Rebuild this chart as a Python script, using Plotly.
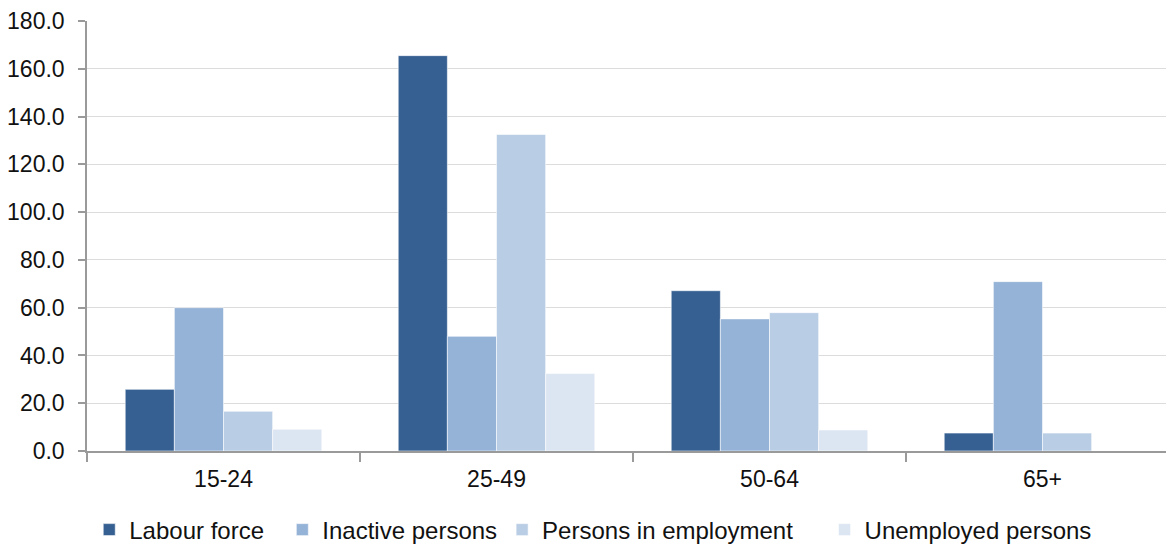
import plotly.graph_objects as go

categories = ["15-24", "25-49", "50-64", "65+"]
labour_force = [25.8, 165.5, 67.1, 7.5]
inactive_persons = [60.0, 48.0, 55.3, 70.9]
persons_in_employment = [16.6, 132.5, 57.9, 7.5]
unemployed_persons = [9.1, 32.4, 8.8, None]

series_names = ["Labour force", "Inactive persons", "Persons in employment", "Unemployed persons"]
series_values = [labour_force, inactive_persons, persons_in_employment, unemployed_persons]
series_colors = ["#366092", "#95B3D7", "#B9CDE5", "#DCE6F2"]
legend_pads = [2, 0, 4, 0]

y_ticks = [0, 20, 40, 60, 80, 100, 120, 140, 160, 180]

fig = go.Figure()
for name, vals, color, pad in zip(series_names, series_values, series_colors, legend_pads):
    fig.add_trace(go.Bar(
        name=name + "\u00a0" * pad, x=categories, y=vals,
        marker=dict(color=color, line=dict(color="rgba(255,255,255,0.7)", width=0.8)),
    ))

font_family = "Liberation Sans, Arial, sans-serif"
fig.update_layout(
    width=1174, height=544,
    margin=dict(l=79, r=3, t=13, b=101),
    paper_bgcolor="white", plot_bgcolor="white",
    barmode="group", bargap=0.28, bargroupgap=0,
    font=dict(family=font_family, size=23, color="#111111"),
    showlegend=True,
    legend=dict(orientation="h", xref="container", yref="container",
                x=0.4985, xanchor="center", y=0.0404, yanchor="middle",
                font=dict(size=24), itemwidth=30, traceorder="normal"),
    xaxis=dict(showline=True, linecolor="#9a9a9a", linewidth=1.5, automargin=False,
               ticks="outside", tickson="boundaries", ticklen=9, tickcolor="#9a9a9a",
               tickwidth=1.5, showgrid=False, ticklabelstandoff=7),
    yaxis=dict(range=[0, 180], tickvals=y_ticks, tickformat=".1f", automargin=False,
               showline=True, linecolor="#9a9a9a", linewidth=1.5,
               ticks="outside", ticklen=7, tickcolor="#9a9a9a", tickwidth=1.5,
               ticklabelstandoff=9,
               showgrid=True, gridcolor="#dcdcdc", gridwidth=1.2, zeroline=False),
)

fig.write_html("out.html")
